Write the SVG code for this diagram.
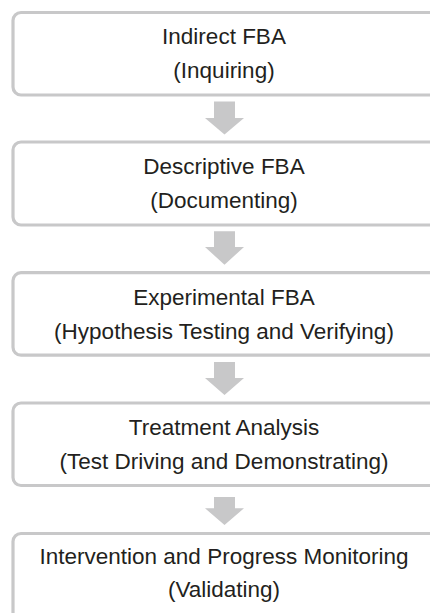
<svg xmlns="http://www.w3.org/2000/svg" width="430" height="613" viewBox="0 0 430 613">
<style>
.box{fill:#ffffff;stroke:#c8c8c9;stroke-width:3.2}
.arr{fill:#c8c8c9;stroke:none}
.t{font-family:"Liberation Sans",Arial,sans-serif;font-size:22.5px;fill:#231f20;text-anchor:middle}
</style>
<rect width="430" height="613" fill="#ffffff"/>
<g id="connectors">
<path class="arr" d="M214 101.5H235V118H244L224.5 134.5L205 118H214Z"/>
<path class="arr" d="M214 231.3H235V247H244L224.5 264.7L205 247H214Z"/>
<path class="arr" d="M214 362H235V378H244L224.5 395L205 378H214Z"/>
<path class="arr" d="M214 497H235V508.3H244L224.5 525L205 508.3H214Z"/>
</g>
<g id="node1">
<rect class="box" x="13" y="12.5" width="440" height="82.5" rx="8"/>
<text class="t" x="224" y="44.3">Indirect FBA</text>
<text class="t" x="224" y="78.3">(Inquiring)</text>
</g>
<g id="node2">
<rect class="box" x="13" y="142" width="440" height="83" rx="8"/>
<text class="t" x="224" y="174">Descriptive FBA</text>
<text class="t" x="224" y="208">(Documenting)</text>
</g>
<g id="node3">
<rect class="box" x="13" y="272.7" width="440" height="82.5" rx="8"/>
<text class="t" x="224" y="305">Experimental FBA</text>
<text class="t" x="224" y="338.5">(Hypothesis Testing and Verifying)</text>
</g>
<g id="node4">
<rect class="box" x="13" y="403" width="440" height="82.5" rx="8"/>
<text class="t" x="224" y="435">Treatment Analysis</text>
<text class="t" x="224" y="468.5">(Test Driving and Demonstrating)</text>
</g>
<g id="node5">
<rect class="box" x="13" y="533.5" width="440" height="90" rx="8"/>
<text class="t" x="224" y="563.5">Intervention and Progress Monitoring</text>
<text class="t" x="224" y="596.7">(Validating)</text>
</g>
</svg>
